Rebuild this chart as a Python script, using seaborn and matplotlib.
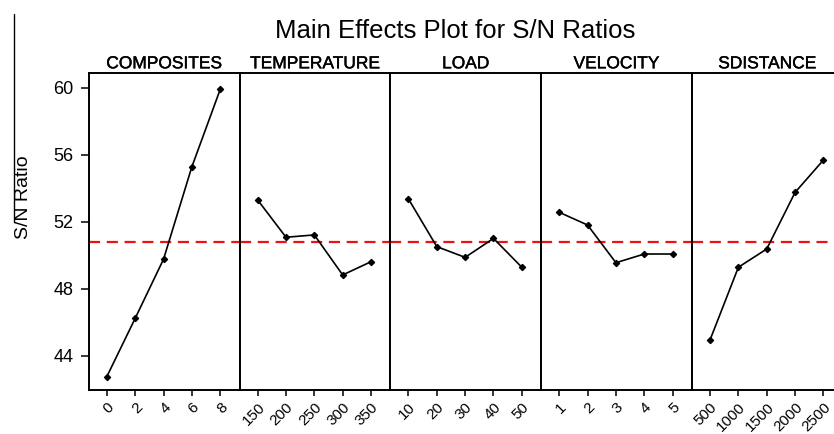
import numpy as np
import pandas as pd
import matplotlib
matplotlib.use("Agg")
import matplotlib.pyplot as plt
import matplotlib.patheffects as pe
from matplotlib.lines import Line2D
import seaborn as sns

# Factor names and their levels
factors = ["COMPOSITES", "TEMPERATURE", "LOAD", "VELOCITY", "SDISTANCE"]
composites_levels = [0, 2, 4, 6, 8]
temperature_levels = [150, 200, 250, 300, 350]
load_levels = [10, 20, 30, 40, 50]
velocity_levels = [1, 2, 3, 4, 5]
sdistance_levels = [500, 1000, 1500, 2000, 2500]

# Mean S/N ratio (dB) at each level
composites_sn = [42.75, 46.23, 49.76, 55.28, 59.90]
temperature_sn = [53.30, 51.07, 51.21, 48.82, 49.61]
load_sn = [53.36, 50.51, 49.87, 51.00, 49.28]
velocity_sn = [52.56, 51.80, 49.55, 50.07, 50.07]
sdistance_sn = [44.94, 49.28, 50.37, 53.75, 55.68]

y_ticks = [44, 48, 52, 56, 60]

levels = [composites_levels, temperature_levels, load_levels,
          velocity_levels, sdistance_levels]
sn_values = [composites_sn, temperature_sn, load_sn, velocity_sn, sdistance_sn]

rows = []
for name, lv, sn in zip(factors, levels, sn_values):
    for l, v in zip(lv, sn):
        rows.append({"factor": name, "level": str(l), "sn": v})
df = pd.DataFrame(rows)
grand_mean = df["sn"].mean()

sns.set_style("white")
plt.rcParams["font.family"] = ["Liberation Sans", "DejaVu Sans"]
plt.rcParams["text.color"] = "black"
plt.rcParams["axes.labelcolor"] = "black"
plt.rcParams["xtick.color"] = "black"
plt.rcParams["ytick.color"] = "black"

W, H = 834, 434
fig = plt.figure(figsize=(W / 100, H / 100), dpi=100)

left_px, top_px, bottom_px = 88.7, 73.3, 390.0
panel_w = 150.8
ax_h = (bottom_px - top_px) / H

axes = []
for i, name in enumerate(factors):
    x0 = (left_px + i * panel_w) / W
    ax = fig.add_axes([x0, 1 - bottom_px / H, panel_w / W, ax_h],
                      sharey=axes[0] if axes else None)
    axes.append(ax)
    sub = df[df["factor"] == name]
    order = [str(l) for l in levels[i]]
    sns.pointplot(data=sub, x="level", y="sn", order=order, ax=ax,
                  color="black", markers="D", markersize=3.2,
                  linewidth=1.2, errorbar=None)
    ax.axhline(grand_mean, color="#ee1111", linestyle=(0, (5, 3)),
               linewidth=1.6, zorder=1)
    ax.set_xlim(-0.64, 4.68)
    ax.set_xlabel("")
    ax.set_ylabel("")
    t = ax.set_title(name, fontsize=12.5, pad=3.6, color="black")
    t.set_path_effects([pe.withStroke(linewidth=0.3, foreground="black")])
    for s in ax.spines.values():
        s.set_color("black")
        s.set_linewidth(1.4)
        s.set_visible(True)
    ax.tick_params(axis="x", direction="out", length=4.5, width=1.1,
                   bottom=True, labelsize=11, pad=3, colors="black")
    plt.setp(ax.get_xticklabels(), rotation=45, ha="right", va="top",
             rotation_mode="anchor")
    if i == 0:
        ax.tick_params(axis="y", direction="out", length=6, width=1.1,
                       left=True, labelsize=13, pad=5, colors="black")
    else:
        ax.tick_params(axis="y", left=False, labelleft=False)

axes[0].set_ylim(41.95, 60.86)
axes[0].set_yticks(y_ticks)

fig.text(0.546, 1 - 38 / H, "Main Effects Plot for S/N Ratios",
         ha="center", va="baseline", fontsize=18.5)
fig.text(24 / W, 1 - 197 / H, "S/N Ratio", rotation=90,
         ha="center", va="center", fontsize=14)

# thin vertical rule on the left margin
fig.add_artist(Line2D([14 / W, 14 / W], [1 - 14 / H, 1 - 222 / H],
                      transform=fig.transFigure, color="black", linewidth=1))

fig.savefig("out.png", dpi=100, facecolor="white")
